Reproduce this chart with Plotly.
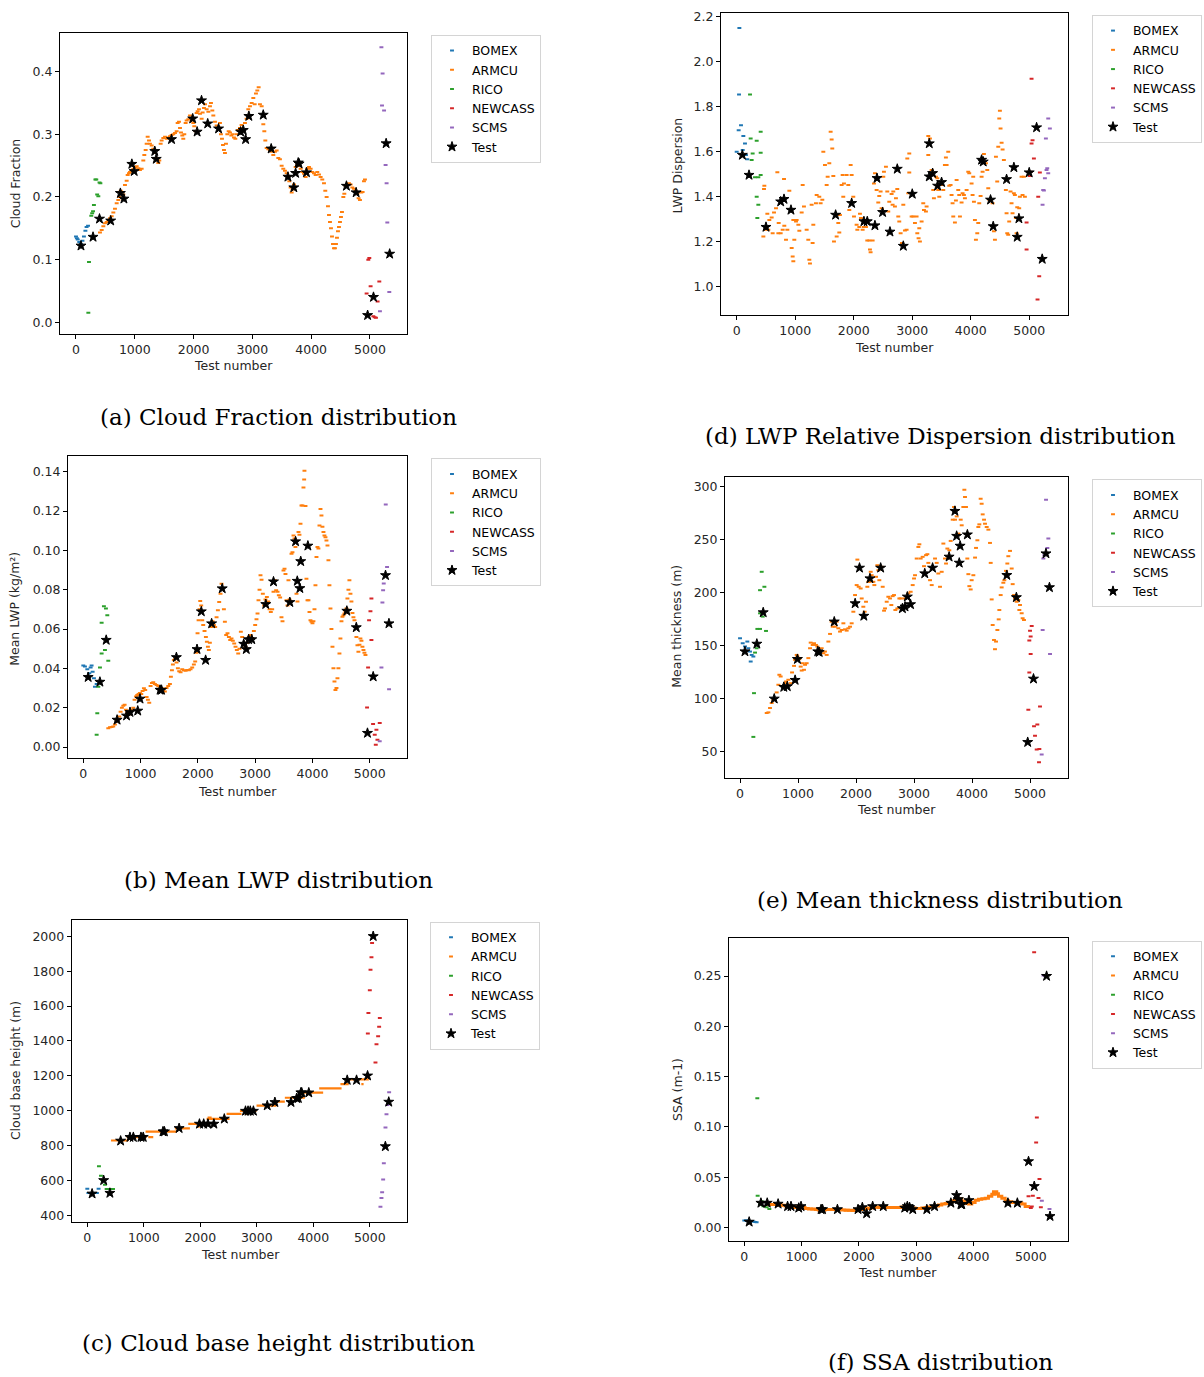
import plotly.graph_objects as go

# ---------------- DATA ----------------
series_names = ["BOMEX", "ARMCU", "RICO", "NEWCASS", "SCMS", "Test"]
x_ticks = [0, 1000, 2000, 3000, 4000, 5000]

test_x = [85, 290, 400, 590, 755, 815, 950, 990, 1340, 1365, 1625, 1985, 2060, 2135, 2240, 2425,
          2800, 2845, 2885, 2940, 3185, 3320, 3605, 3705, 3735, 3780, 3795, 3920, 4600, 4765,
          4960, 5060, 5275, 5335]

# (a) Cloud fraction
cf_bomex_x = [0, 15, 30, 55, 80, 110, 135, 160, 180, 205]
cf_bomex_y = [0.137, 0.134, 0.132, 0.128, 0.125, 0.130, 0.137, 0.146, 0.152, 0.154]
cf_rico_x = [210, 221, 260, 275, 290, 305, 330, 345, 360, 380, 400, 415]
cf_rico_y = [0.015, 0.096, 0.170, 0.174, 0.177, 0.187, 0.228, 0.228, 0.204, 0.201, 0.223, 0.222]
cf_armcu_x = [408,437,465,493,522,550,578,607,635,663,692,720,737,760,782,805,833,862,879,901,
              918,947,975,1003,1032,1060,1088,1117,1145,1162,1185,1202,1219,1242,1258,1287,1315,1344,1372,1400,
              1417,1440,1457,1485,1514,1542,1570,1599,1627,1655,1684,1712,1729,1752,1769,1786,1808,1825,1842,1865,
              1882,1910,1939,1967,1995,2012,2035,2052,2069,2092,2109,2137,2154,2177,2194,2222,2251,2279,2296,2319,
              2336,2364,2392,2421,2449,2466,2483,2500,2517,2534,2551,2574,2597,2619,2642,2664,2687,2710,2732,2755,
              2789,2817,2846,2874,2902,2931,2959,2988,3016,3039,3061,3084,3107,3129,3158,3186,3203,3220,3243,3271,
              3299,3328,3356,3384,3413,3441,3469,3498,3526,3554,3583,3611,3628,3651,3668,3685,3708,3736,3764,3793,
              3821,3849,3878,3906,3935,3963,3991,4019,4048,4076,4104,4133,4161,4189,4218,4240,4263,4286,4303,4320,
              4337,4354,4371,4388,4405,4422,4439,4456,4473,4490,4507,4524,4547,4564,4586,4615,4643,4671,4700,4728,
              4756,4785,4807,4830,4853,4875,4898,4915]
cf_armcu_y = [.143,.147,.153,.158,.160,.163,.166,.169,.175,.181,.190,.195,.200,.210,.208,.204,.219,.226,.235,.238,
              .240,.243,.245,.247,.249,.246,.243,.245,.258,.267,.275,.285,.296,.290,.285,.282,.277,.270,.262,.254,
              .258,.285,.290,.294,.296,.293,.295,.297,.299,.300,.302,.305,.318,.320,.310,.303,.298,.293,.300,.318,
              .322,.324,.330,.322,.318,.313,.305,.334,.337,.340,.333,.325,.335,.342,.348,.340,.336,.345,.350,.338,
              .330,.320,.314,.312,.318,.300,.293,.283,.275,.270,.285,.300,.305,.303,.298,.300,.295,.293,.300,.307,
              .310,.315,.305,.318,.325,.340,.345,.350,.358,.348,.365,.370,.375,.348,.345,.316,.305,.290,.278,.276,
              .275,.272,.267,.272,.274,.262,.260,.250,.245,.242,.238,.233,.225,.215,.207,.212,.220,.248,.252,.250,
              .245,.240,.237,.232,.245,.248,.245,.240,.238,.235,.240,.236,.232,.228,.222,.210,.200,.185,.171,.160,
              .150,.137,.125,.118,.118,.125,.135,.145,.152,.160,.168,.176,.200,.205,.218,.220,.222,.220,.215,.213,
              .210,.205,.198,.195,.207,.208,.225,.228]
cf_newcass_x = [4943, 4972, 4989, 5011, 5057, 5080, 5102, 5130, 5159]
cf_newcass_y = [0.0456, 0.0997, 0.1024, 0.0573, 0.0095, 0.008, 0.0069, 0.033, 0.065]
cf_scms_x = [5170, 5195, 5205, 5215, 5240, 5266, 5283, 5295, 5329]
cf_scms_y = [0.0175, 0.439, 0.346, 0.397, 0.338, 0.251, 0.222, 0.159, 0.048]
cf_test_y = [0.122, 0.136, 0.165, 0.162, 0.206, 0.197, 0.2525, 0.241, 0.273, 0.2605, 0.292, 0.325,
             0.304, 0.354, 0.317, 0.309, 0.304, 0.3066, 0.292, 0.329, 0.331, 0.277, 0.232, 0.215,
             0.238, 0.2546, 0.253, 0.239, 0.2175, 0.207, 0.011, 0.040, 0.2854, 0.109]

# (b) Mean LWP
lwp_bomex_x = [0, 29, 70, 105, 128, 145, 163, 186, 203, 233]
lwp_bomex_y = [0.0414, 0.0409, 0.0395, 0.0375, 0.0405, 0.0414, 0.0383, 0.035, 0.0307, 0.032]
lwp_rico_x = [233, 244, 262, 291, 320, 320, 360, 378, 395, 419, 436]
lwp_rico_y = [0.0062, 0.0172, 0.0307, 0.0405, 0.0476, 0.0632, 0.0716, 0.0493, 0.0704, 0.067, 0.0439]
lwp_armcu_x = [436,465,494,523,552,581,610,628,651,674,698,721,744,767,791,814,843,872,895,919,
               942,965,988,1012,1035,1058,1081,1105,1128,1151,1174,1198,1221,1250,1279,1308,1337,1366,1395,1424,
               1453,1483,1512,1529,1547,1564,1581,1605,1628,1651,1674,1698,1727,1756,1785,1814,1843,1872,1901,1930,
               1953,1977,1994,2012,2029,2041,2058,2076,2093,2116,2140,2157,2175,2192,2209,2233,2256,2279,2302,2326,
               2349,2372,2395,2413,2430,2454,2471,2494,2517,2541,2564,2587,2610,2634,2657,2680,2704,2727,2750,2773,
               2802,2831,2860,2890,2919,2948,2977,3000,3023,3041,3058,3076,3093,3111,3134,3157,3180,3204,3227,3250,
               3273,3297,3320,3343,3366,3390,3413,3436,3459,3477,3494,3512,3529,3547,3564,3581,3599,3616,3634,3651,
               3669,3686,3703,3721,3738,3756,3773,3791,3808,3826,3843,3855,3860,3878,3895,3913,3930,3948,3965,3983,
               4000,4017,4035,4052,4070,4087,4104,4122,4140,4157,4174,4192,4209,4227,4244,4262,4279,4296,4314,4331,
               4349,4366,4384,4401,4419,4436,4453,4471,4488,4506,4523,4541,4558,4576,4593,4610,4628,4645,4663,4680,
               4698,4715,4733,4750,4767,4785,4802,4820,4837,4855,4872,4890,4907,4925]
lwp_armcu_y = [.0096,.0100,.0102,.0105,.0115,.0130,.0140,.0155,.0180,.0200,.0210,.0215,.0190,.0175,.0165,.0180,.0189,.0200,.0240,.0257,
               .0265,.0270,.0275,.0270,.0285,.0299,.0290,.0255,.0240,.0225,.0310,.0325,.0330,.0320,.0316,.0310,.0307,.0300,.0290,.0282,
               .0300,.0310,.0320,.0358,.0390,.0420,.0442,.0450,.0430,.0400,.0385,.0380,.0395,.0390,.0388,.0392,.0390,.0395,.0405,.0420,
               .0435,.0480,.0578,.0645,.0700,.0743,.0720,.0645,.0620,.0590,.0560,.0535,.0510,.0493,.0530,.0610,.0640,.0620,.0610,.0660,
               .0696,.0738,.0780,.0830,.0806,.0700,.0637,.0570,.0578,.0560,.0544,.0552,.0540,.0527,.0510,.0493,.0476,.0500,.0586,.0560,
               .0520,.0510,.0530,.0560,.0570,.0555,.0590,.0620,.0650,.0679,.0746,.0800,.0873,.0850,.0780,.0720,.0750,.0763,.0740,.0700,
               .0687,.0700,.0790,.0848,.0797,.0790,.0772,.0760,.0660,.0640,.0898,.0907,.0880,.0746,.0720,.0848,.0750,.0740,.0983,.0990,
               .1076,.1060,.1017,.0780,.0740,.1093,.1080,.1135,.1228,.1228,.1320,.1360,.1405,.1225,.0856,.0746,.0746,.0687,.0645,.0637,
               .0630,.0640,.0700,.0822,.0966,.1017,.1010,.1126,.1210,.1177,.1120,.1093,.1076,.1067,.1050,.1025,.0950,.0822,.0704,.0600,
               .0510,.0400,.0333,.0290,.0300,.0350,.0400,.0476,.0552,.0640,.0662,.0670,.0679,.0690,.0704,.0755,.0800,.0848,.0780,.0740,
               .0682,.0660,.0645,.0610,.0560,.0518,.0485,.0520,.0552,.0540,.0510,.0493,.0480,.0468]
lwp_newcass_x = [4953, 4971, 4988, 5012, 5029, 5029, 5058, 5087, 5105, 5116, 5134, 5174]
lwp_newcass_y = [0.0201, 0.0404, 0.0645, 0.0691, 0.0755, 0.0544, 0.0117, 0.0062, 0.0012, 0.0088, 0.0037, 0.0122]
lwp_scms_x = [5174, 5204, 5221, 5233, 5244, 5279, 5302, 5337]
lwp_scms_y = [0.0029, 0.0404, 0.0735, 0.0797, 0.0831, 0.1233, 0.0915, 0.0294]
lwp_test_y = [0.0355, 0.0331, 0.0544, 0.0138, 0.0159, 0.0177, 0.0184, 0.0245, 0.029, 0.029, 0.0456,
              0.0497, 0.0689, 0.0442, 0.0628, 0.0806, 0.0524, 0.0497, 0.0547, 0.0547, 0.0726, 0.0841,
              0.0736, 0.1045, 0.0844, 0.0807, 0.0944, 0.1023, 0.0692, 0.0608, 0.0071, 0.0358, 0.0873, 0.0628]

# (c) Cloud base height
cbh_bomex_x = [0, 20, 50, 80, 110, 140, 170, 200]
cbh_bomex_y = [554, 529, 529, 529, 529, 529, 529, 554]
cbh_rico_x = [206, 242, 271, 312, 342, 380, 420, 455]
cbh_rico_y = [682, 628, 602, 577, 552, 552, 552, 552]
cbh_armcu_start = [420, 696, 1079, 1032, 1550, 1787, 1960, 2111, 2130, 2465, 2701, 2790, 2995, 3302, 3496, 3744, 4104, 4480, 4627, 4850]
cbh_armcu_end = [725, 1049, 1167, 1580, 1816, 2081, 1990, 2518, 2200, 2730, 2995, 2850, 3349, 3496, 3850, 4174, 4500, 4627, 4982, 4890]
cbh_armcu_val = [830, 849, 849, 881, 900, 925, 910, 954, 961, 982, 999, 982, 1030, 1053, 1075, 1104, 1129, 1153, 1180, 1153]
cbh_newcass_x = [4965, 4975, 5000, 5012, 5029, 5040, 5100, 5118, 5147, 5165, 5177]
cbh_newcass_y = [1443, 1561, 1690, 1808, 1880, 1962, 1277, 1382, 1427, 1481, 1532]
cbh_scms_x = [5188, 5206, 5218, 5236, 5248, 5265, 5277, 5295, 5312, 5342]
cbh_scms_y = [450, 501, 533, 606, 700, 796, 904, 980, 1034, 1106]
cbh_test_y = [525, 602, 529, 828, 849, 849, 849, 849, 881, 881, 900, 925, 925, 925, 925, 954, 999, 999,
              999, 999, 1030, 1049, 1049, 1072, 1072, 1104, 1104, 1104, 1176, 1176, 1201, 2000, 796, 1051]

# (d) LWP relative dispersion
disp_bomex_x = [0, 34, 40, 46, 74, 103, 114, 142, 159, 182]
disp_bomex_y = [1.599, 1.694, 1.853, 2.148, 1.716, 1.606, 1.668, 1.635, 1.584, 1.565]
disp_rico_x = [228, 239, 256, 273, 313, 342, 342, 353, 370, 370, 410, 410, 410]
disp_rico_y = [1.853, 1.657, 1.562, 1.591, 1.485, 1.647, 1.399, 1.304, 1.363, 1.485, 1.687, 1.594, 1.495]
disp_armcu_x = [467,473,456,484,524,541,558,615,598,638,695,672,718,712,752,786,809,814,843,866,
                900,940,957,968,985,968,1014,1025,1054,1071,1111,1128,1150,1196,1224,1242,1253,1281,1298,1310,
                1355,1367,1412,1435,1464,1481,1509,1538,1555,1583,1606,1623,1634,1652,1663,1709,1737,1754,1765,1794,
                1811,1822,1834,1879,1908,1925,1948,1965,1993,2005,2050,2062,2096,2107,2124,2153,2175,2210,2232,2267,
                2278,2289,2324,2346,2363,2392,2420,2437,2460,2477,2506,2517,2551,2574,2591,2608,2648,2665,2677,2705,
                2722,2745,2762,2779,2802,2825,2848,2876,2916,2950,2950,2933,2904,2990,3018,3047,3075,3087,3109,3132,
                3121,3161,3189,3201,3235,3246,3275,3303,3275,3332,3360,3371,3406,3428,3445,3463,3502,3531,3559,3576,
                3588,3616,3633,3656,3673,3690,3702,3730,3747,3759,3787,3804,3816,3844,3861,3884,3901,3930,3958,3975,
                4015,4032,4043,4055,4072,4089,4112,4129,4146,4169,4186,4203,4226,4260,4283,4300,4317,4374,4397,4414,
                4431,4453,4471,4488,4499,4510,4528,4545,4567,4601,4613,4624,4641,4658,4681,4698,4715,4738,4755,4772,
                4784,4795,4829,4841,4869,4886,4909,4926]
disp_armcu_y = [1.433,1.447,1.222,1.252,1.323,1.252,1.296,1.237,1.307,1.329,1.507,1.348,1.282,1.237,1.237,1.252,1.478,1.270,1.208,1.252,
                1.425,1.171,1.134,1.112,1.208,1.296,1.289,1.296,1.274,1.248,1.329,1.451,1.355,1.252,1.208,1.119,1.102,1.363,1.193,1.274,
                1.370,1.407,1.399,1.370,1.385,1.599,1.540,1.451,1.488,1.547,1.687,1.653,1.613,1.491,1.200,1.222,1.282,1.240,1.318,1.451,
                1.495,1.399,1.458,1.495,1.451,1.340,1.540,1.495,1.399,1.311,1.274,1.252,1.264,1.323,1.304,1.252,1.264,1.264,1.205,1.205,
                1.164,1.152,1.205,1.458,1.503,1.429,1.373,1.402,1.422,1.348,1.488,1.510,1.532,1.422,1.333,1.377,1.411,1.363,1.422,1.355,
                1.392,1.433,1.311,1.289,1.237,1.193,1.363,1.249,1.569,1.591,1.506,1.414,1.252,1.311,1.311,1.282,1.311,1.237,1.215,1.200,
                1.259,1.289,1.370,1.340,1.333,1.355,1.668,1.657,1.584,1.517,1.429,1.392,1.488,1.481,1.429,1.399,1.451,1.429,1.540,1.573,
                1.540,1.599,1.447,1.451,1.407,1.370,1.311,1.284,1.382,1.473,1.429,1.407,1.311,1.373,1.414,1.407,1.392,1.429,1.510,1.503,
                1.458,1.407,1.488,1.377,1.296,1.208,1.237,1.282,1.370,1.402,1.488,1.510,1.588,1.547,1.517,1.436,1.385,1.370,1.245,1.208,
                1.576,1.466,1.621,1.746,1.780,1.702,1.638,1.609,1.562,1.429,1.326,1.237,1.230,1.289,1.422,1.370,1.326,1.414,1.407,1.304,
                1.237,1.352,1.348,1.399,1.488,1.407,1.488,1.399]
disp_newcass_x = [4955, 4955, 5012, 5023, 5040, 5040, 5057, 5080, 5142, 5154, 5171, 5182]
disp_newcass_y = [1.284, 1.164, 1.491, 1.510, 1.635, 1.923, 1.650, 1.569, 0.943, 1.399, 1.046, 1.506]
disp_scms_x = [5228, 5239, 5251, 5268, 5285, 5296, 5308, 5325, 5325, 5353]
disp_scms_y = [1.363, 1.429, 1.426, 1.481, 1.657, 1.517, 1.525, 1.503, 1.746, 1.702]
disp_test_x = [97, 211, 501, 752, 809, 928, 1691, 1965, 2175, 2232, 2363, 2398, 2494, 2620, 2745, 2848,
               3001, 3292, 3292, 3349, 3434, 3502, 4186, 4214, 4339, 4385, 4613, 4738, 4795, 4824, 5000, 5126, 5222]
disp_test_y = [1.584, 1.495, 1.264, 1.377, 1.388, 1.340, 1.318, 1.370, 1.289, 1.289, 1.271, 1.481, 1.330,
               1.243, 1.522, 1.180, 1.411, 1.635, 1.488, 1.503, 1.447, 1.463, 1.562, 1.554, 1.385, 1.267,
               1.476, 1.529, 1.220, 1.302, 1.506, 1.706, 1.122]

# (e) Mean thickness
thick_bomex_x = [0, 46, 86, 126, 144, 172, 184, 201, 230]
thick_bomex_y = [156.7, 152, 149, 153.6, 147.3, 144.2, 134.8, 141, 139.5]
thick_rico_x = [230, 241, 259, 287, 299, 345, 345, 345, 374, 391, 420, 448]
thick_rico_y = [63.8, 105, 143.2, 147.3, 165.5, 165.5, 180.2, 202, 219.3, 177.1, 205.2, 163.6]
thick_armcu_x = [460,489,517,546,575,632,661,678,701,736,776,793,833,874,897,931,948,977,989,1023,
                 1046,1063,1080,1103,1121,1149,1178,1207,1218,1253,1276,1310,1333,1408,1437,1465,1494,1523,1552,1580,
                 1598,1638,1667,1695,1724,1753,1782,1810,1839,1868,1897,1925,1954,1983,2011,2023,2046,2080,2098,2126,
                 2149,2172,2195,2213,2230,2253,2270,2299,2316,2345,2368,2385,2402,2442,2460,2483,2500,2529,2557,2586,
                 2609,2632,2655,2678,2712,2747,2770,2805,2833,2902,2942,2977,3000,3017,3046,3075,3092,3115,3149,3172,
                 3207,3230,3247,3276,3305,3362,3391,3419,3448,3477,3506,3534,3552,3575,3609,3632,3667,3690,3707,3736,
                 3764,3805,3822,3850,3868,3879,3896,3919,3937,3954,3977,3994,4023,4052,4069,4092,4109,4126,4149,4166,
                 4184,4207,4224,4253,4282,4310,4322,4339,4356,4379,4396,4414,4437,4460,4471,4494,4511,4540,4557,4586,
                 4609,4626,4655,4684,4701,4724,4741,4770,4799,4816,4827,4856,4873,4896]
thick_armcu_y = [86.3,86.9,91,95.7,98.8,105.7,112.9,122.3,120.7,111.3,114.4,116,117.6,114.4,124.5,130.7,136.4,141,139.5,137,
                 130,126.3,133.2,127,131.7,133.2,138,147.3,152.6,150.4,152,150.4,148.9,147.3,142.6,144.2,141,153.6,160.8,172.3,
                 167.6,167.6,172.3,166.1,163,164.5,170.8,165.1,163.9,166.1,167.6,170.8,181.7,197.4,206.8,230.8,205.2,203.6,194.2,186.4,
                 181.7,191.1,205.2,209.9,209.9,219.3,216.1,209.9,206.8,214.6,225.5,220.8,211.4,224,205.2,182.7,184.8,191.1,195.8,194.2,
                 188,196.4,197.4,183.3,184.8,194.2,194.2,183.3,194.2,199,200.5,206.8,213,216.1,231.8,242.7,245.2,231.8,233.4,224.6,
                 235,235.9,227.7,211.4,206.8,231.8,227.7,217.7,205.2,219.3,245.9,231.8,227.1,241.2,239.6,248.4,268.4,280.3,268.4,271.5,
                 255.3,268.4,263.1,280.3,296.6,289.7,280.3,231.8,217.1,205.8,202.7,211.4,216.1,232.7,241.8,249,261.5,264,288.1,283.4,
                 273.4,268.4,264.6,261.5,259,246.5,227.7,193.3,169.2,155.1,146.4,153.6,164.5,174.5,183.3,197.4,204.6,209,211.4,220.2,
                 227.1,234,239,222.4,207.7,197.4,194.2,191.1,192.7,183.3,188,180.2,175.5,173.9]
thick_newcass_x = [4971, 4988, 4988, 5000, 5011, 5011, 5029, 5069, 5086, 5115, 5126, 5155, 5161, 5172]
thick_newcass_y = [89.4, 154.5, 124.5, 163.9, 158.3, 142, 168.3, 73.8, 65, 51.9, 75.4, 40, 52.5, 92.5]
thick_scms_x = [5201, 5218, 5230, 5247, 5276, 5299, 5316, 5345]
thick_scms_y = [47.2, 164.5, 231.8, 235, 287.2, 241.8, 250.6, 142]
thick_test_y = [144.2, 151.4, 181, 99.7, 110.7, 111.3, 117.3, 137, 144.2, 143.6, 172.3, 189.5, 223,
                177.7, 213, 223, 184.8, 186.4, 195.8, 188.6, 217.7, 223, 233.4, 276.5, 253, 227.7,
                243.7, 254.3, 216.1, 195.2, 58.8, 118.5, 236.5, 204.6]

# (f) SSA
ssa_bomex_x = [0, 30, 60, 100, 130, 160, 190, 215]
ssa_bomex_y = [0.007, 0.007, 0.007, 0.0065, 0.006, 0.006, 0.0055, 0.0053]
ssa_rico_x = [227, 233, 274, 303, 332, 390, 437]
ssa_rico_y = [0.1285, 0.0317, 0.0228, 0.026, 0.0211, 0.0201, 0.0185]
ssa_armcu_x = [448,506,565,623,681,739,797,856,914,972,1030,1089,1147,1205,1263,1321,1380,1438,1496,1554,
               1612,1671,1729,1787,1845,1903,1962,2020,2078,2136,2195,2253,2311,2369,2427,2486,2544,2602,2660,2718,
               2777,2835,2893,2951,3009,3068,3126,3184,3242,3301,3359,3417,3475,3534,3592,3650,3708,3766,3824,3883,
               3941,3999,4057,4115,4174,4232,4290,4348,4377,4406,4465,4523,4581,4639,4698,4756,4814,4872,4930]
ssa_armcu_y = [.0228,.0228,.0228,.0225,.0222,.0215,.0212,.0210,.0200,.0195,.0200,.0190,.0185,.0185,.0180,.0175,.0175,.0180,.0180,.0178,
               .0180,.0178,.0175,.0172,.0172,.0170,.0175,.0180,.0185,.0190,.0195,.0200,.0205,.0200,.0205,.0200,.0200,.0200,.0200,.0200,
               .0205,.0205,.0200,.0195,.0190,.0190,.0195,.0200,.0205,.0210,.0215,.0225,.0235,.0240,.0250,.0265,.0280,.0285,.0260,.0240,
               .0235,.0250,.0270,.0280,.0285,.0290,.0310,.0330,.0355,.0335,.0310,.0290,.0265,.0255,.0250,.0250,.0245,.0235,.0210]
ssa_newcass_x = [4960, 5000, 5017, 5035, 5058, 5093, 5105, 5134, 5151, 5175]
ssa_newcass_y = [0.031, 0.0195, 0.021, 0.0317, 0.2738, 0.0845, 0.1093, 0.0294, 0.0482, 0.0201]
ssa_scms_x = [5192, 5221, 5250, 5326]
ssa_scms_y = [0.0267, 0.2507, 0.2507, 0.0185]
ssa_test_y = [0.0056, 0.0244, 0.0244, 0.0235, 0.021, 0.021, 0.0195, 0.021, 0.018, 0.018, 0.018, 0.018,
              0.020, 0.0139, 0.021, 0.021, 0.0195, 0.021, 0.020, 0.018, 0.018, 0.021, 0.0244, 0.032,
              0.028, 0.023, 0.023, 0.027, 0.0244, 0.0244, 0.0657, 0.041, 0.25, 0.0112]

# ---------------- STYLE / LAYOUT ----------------
W, H = 1204, 1377
COL = {"BOMEX": "#1f77b4", "ARMCU": "#ff7f0e", "RICO": "#2ca02c",
       "NEWCASS": "#d62728", "SCMS": "#9467bd", "Test": "black"}
SANS = "DejaVu Sans"
TXT = "#262626"


def fx(p):
    return p / W


def fy(p):
    return 1 - p / H


panels = [
    dict(dx=(60, 407), dy=(29, 331.7), xr=(-272, 5630), yr=(-0.0197, 0.462), t0=0, dt=0.1, fmt=".1f",
         ytitle="Cloud Fraction", yt=(15, 180), xt=(233, 363), lg=(431, 31),
         cap="(a) Cloud Fraction distribution", cp=(278, 415)),
    dict(dx=(68, 407), dy=(454, 757), xr=(-267, 5650), yr=(-0.0057, 0.1478), t0=0, dt=0.02, fmt=".2f",
         ytitle="Mean LWP (kg/m²)", yt=(15, 607), xt=(237, 790), lg=(431, 456),
         cap="(b) Mean LWP distribution", cp=(278, 879)),
    dict(dx=(71.7, 407), dy=(919, 1222.3), xr=(-276, 5658), yr=(364, 2095), t0=400, dt=200, fmt="d",
         ytitle="Cloud base height (m)", yt=(15, 1071), xt=(240, 1255), lg=(430, 921),
         cap="(c) Cloud base height distribution", cp=(278, 1344)),
    dict(dx=(721, 1068.3), dy=(9, 312.3), xr=(-268, 5668), yr=(0.873, 2.2146), t0=1.0, dt=0.2, fmt=".1f",
         ytitle="LWP Dispersion", yt=(677, 162), xt=(894, 345), lg=(1092, 11),
         cap="(d) LWP Relative Dispersion distribution", cp=(940, 434)),
    dict(dx=(725, 1068.3), dy=(474.3, 776.7), xr=(-259, 5660), yr=(25.2, 309), t0=50, dt=50, fmt="d",
         ytitle="Mean thickness (m)", yt=(677, 625), xt=(896, 808), lg=(1092, 477),
         cap="(e) Mean thickness distribution", cp=(940, 899)),
    dict(dx=(729, 1068.3), dy=(937.3, 1241.7), xr=(-267, 5654), yr=(-0.0136, 0.288), t0=0, dt=0.05, fmt=".2f",
         ytitle="SSA (m-1)", yt=(677, 1090), xt=(898, 1273), lg=(1092, 940),
         cap="(f) SSA distribution", cp=(940, 1363)),
]

panel_data = [
    dict(BOMEX=(cf_bomex_x, cf_bomex_y), ARMCU=(cf_armcu_x, cf_armcu_y), RICO=(cf_rico_x, cf_rico_y),
         NEWCASS=(cf_newcass_x, cf_newcass_y), SCMS=(cf_scms_x, cf_scms_y), Test=(test_x, cf_test_y)),
    dict(BOMEX=(lwp_bomex_x, lwp_bomex_y), ARMCU=(lwp_armcu_x, lwp_armcu_y), RICO=(lwp_rico_x, lwp_rico_y),
         NEWCASS=(lwp_newcass_x, lwp_newcass_y), SCMS=(lwp_scms_x, lwp_scms_y), Test=(test_x, lwp_test_y)),
    dict(BOMEX=(cbh_bomex_x, cbh_bomex_y), ARMCU=None, RICO=(cbh_rico_x, cbh_rico_y),
         NEWCASS=(cbh_newcass_x, cbh_newcass_y), SCMS=(cbh_scms_x, cbh_scms_y), Test=(test_x, cbh_test_y)),
    dict(BOMEX=(disp_bomex_x, disp_bomex_y), ARMCU=(disp_armcu_x, disp_armcu_y), RICO=(disp_rico_x, disp_rico_y),
         NEWCASS=(disp_newcass_x, disp_newcass_y), SCMS=(disp_scms_x, disp_scms_y), Test=(disp_test_x, disp_test_y)),
    dict(BOMEX=(thick_bomex_x, thick_bomex_y), ARMCU=(thick_armcu_x, thick_armcu_y), RICO=(thick_rico_x, thick_rico_y),
         NEWCASS=(thick_newcass_x, thick_newcass_y), SCMS=(thick_scms_x, thick_scms_y), Test=(test_x, thick_test_y)),
    dict(BOMEX=(ssa_bomex_x, ssa_bomex_y), ARMCU=(ssa_armcu_x, ssa_armcu_y), RICO=(ssa_rico_x, ssa_rico_y),
         NEWCASS=(ssa_newcass_x, ssa_newcass_y), SCMS=(ssa_scms_x, ssa_scms_y), Test=(test_x, ssa_test_y)),
]

fig = go.Figure()
layout = dict(width=W, height=H, margin=dict(l=0, r=0, t=0, b=0),
              paper_bgcolor="white", plot_bgcolor="white", showlegend=True,
              font=dict(family=SANS, size=12.5, color=TXT))
annotations = []


def dash_marker(color, size=2.8, width=2):
    return dict(symbol="line-ew", size=size, color=color, line=dict(color=color, width=width))


STAR = dict(symbol="star", size=7.5, color="black", line=dict(color="black", width=1))

for i, (p, d) in enumerate(zip(panels, panel_data), start=1):
    sfx = "" if i == 1 else str(i)
    xref, yref, lgname = "x" + sfx, "y" + sfx, "legend" + sfx
    for name in series_names:
        col = COL[name]
        mk = STAR if name == "Test" else dash_marker(col)
        if d[name] is None:
            # cloud base height ARMCU: constant runs drawn as segments
            sx, sy = [], []
            for s, e, v in zip(cbh_armcu_start, cbh_armcu_end, cbh_armcu_val):
                sx += [s, e, None]
                sy += [v, v, None]
            fig.add_trace(go.Scatter(x=sx, y=sy, mode="lines", line=dict(color=col, width=2.2),
                                     xaxis=xref, yaxis=yref, showlegend=False, hoverinfo="skip"))
            fig.add_trace(go.Scatter(x=[None], y=[None], mode="markers", name=name, marker=mk,
                                     xaxis=xref, yaxis=yref, legend=lgname))
            continue
        xs, ys = d[name]
        if i == 6 and name == "ARMCU":
            # dense band in the SSA panel: thicker dashes, legend entry kept small
            fig.add_trace(go.Scatter(x=xs, y=ys, mode="markers", marker=dash_marker(col, size=4.5, width=3),
                                     xaxis=xref, yaxis=yref, showlegend=False))
            fig.add_trace(go.Scatter(x=[None], y=[None], mode="markers", name=name, marker=mk,
                                     xaxis=xref, yaxis=yref, legend=lgname))
            continue
        fig.add_trace(go.Scatter(x=xs, y=ys, mode="markers", name=name, marker=mk,
                                 xaxis=xref, yaxis=yref, legend=lgname))

    axcommon = dict(showline=True, linecolor="black", linewidth=1, mirror=True, ticks="outside",
                    ticklen=4, tickwidth=1, tickcolor="black", showgrid=False, zeroline=False,
                    tickfont=dict(family=SANS, size=12.5, color=TXT))
    layout["xaxis" + sfx] = dict(domain=[fx(p["dx"][0]), fx(p["dx"][1])], range=list(p["xr"]),
                                 anchor=yref, tickmode="array", tickvals=x_ticks,
                                 ticktext=[str(v) for v in x_ticks], **axcommon)
    layout["yaxis" + sfx] = dict(domain=[fy(p["dy"][1]), fy(p["dy"][0])], range=list(p["yr"]),
                                 anchor=xref, tick0=p["t0"], dtick=p["dt"], tickformat=p["fmt"], **axcommon)
    layout[lgname] = dict(x=fx(p["lg"][0]), y=fy(p["lg"][1]), xanchor="left", yanchor="top",
                          bgcolor="white", bordercolor="#d4d4d4", borderwidth=1,
                          font=dict(family=SANS, size=12.5, color="black"), tracegroupgap=0,
                          itemsizing="trace")
    annotations.append(dict(text=p["ytitle"], x=fx(p["yt"][0]), y=fy(p["yt"][1]), xref="paper", yref="paper",
                            showarrow=False, textangle=-90, xanchor="center", yanchor="middle",
                            font=dict(family=SANS, size=12.5, color=TXT)))
    annotations.append(dict(text="Test number", x=fx(p["xt"][0]), y=fy(p["xt"][1]), xref="paper", yref="paper",
                            showarrow=False, xanchor="center", yanchor="middle",
                            font=dict(family=SANS, size=12.5, color=TXT)))
    annotations.append(dict(text=p["cap"], x=fx(p["cp"][0]), y=fy(p["cp"][1]), xref="paper", yref="paper",
                            showarrow=False, xanchor="center", yanchor="middle",
                            font=dict(family="DejaVu Serif", size=23, color="black")))

layout["annotations"] = annotations
fig.update_layout(**layout)
fig.write_html("out.html")
